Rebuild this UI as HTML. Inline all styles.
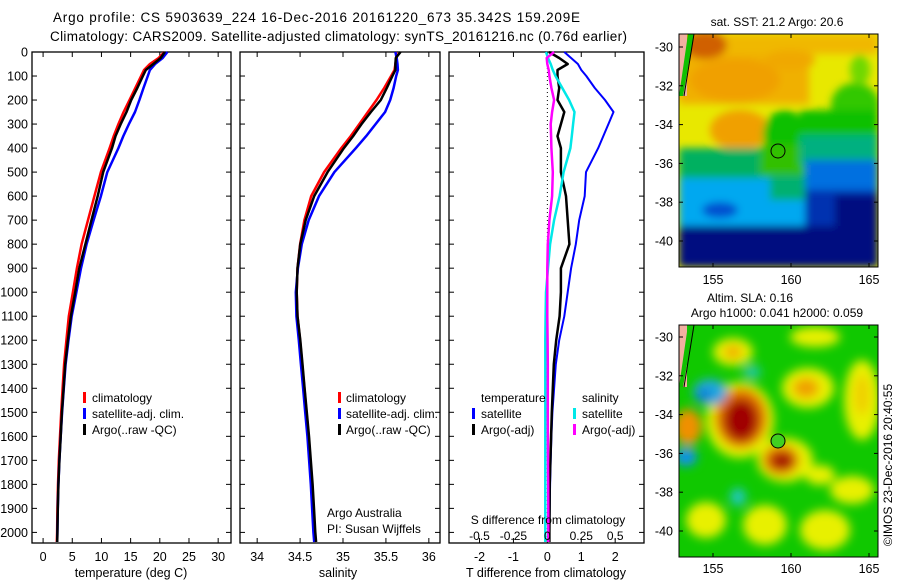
<!DOCTYPE html>
<html><head><meta charset="utf-8"><style>
html,body{margin:0;padding:0;background:#fff;}
svg{display:block;font-family:"Liberation Sans",sans-serif;}
</style></head><body>
<svg id="fig" width="900" height="580" viewBox="0 0 900 580">
<defs>
<filter id="b1" x="-50%" y="-50%" width="200%" height="200%"><feGaussianBlur stdDeviation="4"/></filter>
<filter id="b2" x="-50%" y="-50%" width="200%" height="200%"><feGaussianBlur stdDeviation="5"/></filter>
<clipPath id="cm1"><rect x="679" y="34" width="199" height="233"/></clipPath>
<clipPath id="cm2"><rect x="679" y="325" width="199" height="232"/></clipPath>
</defs>
<text x="53" y="22" font-size="13.5" textLength="527">Argo profile: CS 5903639_224 16-Dec-2016 20161220_673 35.342S 159.209E</text>
<text x="50" y="41" font-size="13.5" textLength="577">Climatology: CARS2009. Satellite-adjusted climatology: synTS_20161216.nc (0.76d earlier)</text>

<g id="p1"></g>
<g id="p2"></g>
<g id="p3"></g>

<!-- Map 1: SST -->
<g>
<g clip-path="url(#cm1)">
<rect x="679" y="34" width="199" height="233" fill="#e8e800"/>
<g filter="url(#b1)">
<rect x="679" y="34" width="130" height="70" fill="#f0b000"/>
<rect x="679" y="34" width="199" height="20" fill="#f0b800"/>
<ellipse cx="705" cy="45" rx="22" ry="14" fill="#d06000"/>
<ellipse cx="735" cy="80" rx="45" ry="22" fill="#f0a000"/>
<ellipse cx="740" cy="130" rx="30" ry="20" fill="#f0a000"/>
<ellipse cx="790" cy="60" rx="25" ry="10" fill="#f0a800"/>
<ellipse cx="855" cy="105" rx="24" ry="22" fill="#30c800"/>
<ellipse cx="860" cy="70" rx="10" ry="15" fill="#70d800"/>
<ellipse cx="785" cy="135" rx="22" ry="25" fill="#10c000"/>
<rect x="800" y="110" width="78" height="35" fill="#10c000"/>
<rect x="679" y="148" width="199" height="30" fill="#00b060"/>
<rect x="760" y="145" width="45" height="30" fill="#30c000"/>
<rect x="800" y="135" width="78" height="30" fill="#00b080"/>
<rect x="679" y="178" width="130" height="48" fill="#00a8f0"/>
<rect x="770" y="175" width="35" height="25" fill="#00b070"/>
<rect x="805" y="160" width="73" height="35" fill="#0070e0"/>
<rect x="805" y="190" width="73" height="77" fill="#0030b0"/>
<rect x="679" y="226" width="199" height="41" fill="#000c80"/>
<rect x="835" y="195" width="43" height="72" fill="#000c80"/>
<ellipse cx="720" cy="210" rx="18" ry="8" fill="#0050d0"/>
</g>
<rect x="679" y="34" width="8" height="62" fill="#f0b0a0"/>
<polygon points="688,34 694,34 683,96 679,96" fill="#10c000"/>
<polyline points="694,34 684,96" fill="none" stroke="#000" stroke-width="1"/>
</g>
<rect x="679" y="34" width="199" height="233" fill="none" stroke="#000" stroke-width="1"/>
<circle cx="778" cy="151" r="7" fill="none" stroke="#000" stroke-width="1"/>
<text x="777" y="26" font-size="12" text-anchor="middle">sat. SST: 21.2 Argo: 20.6</text>
</g>

<!-- Map 2: SLA -->
<g>
<g clip-path="url(#cm2)">
<rect x="679" y="325" width="199" height="232" fill="#10c800"/>
<g filter="url(#b2)">
<ellipse cx="740" cy="420" rx="34" ry="38" fill="#e8f000"/>
<ellipse cx="785" cy="460" rx="28" ry="22" fill="#e8f000"/>
<ellipse cx="808" cy="388" rx="26" ry="20" fill="#e8f000"/>
<ellipse cx="733" cy="352" rx="20" ry="14" fill="#e8f000"/>
<ellipse cx="862" cy="400" rx="18" ry="40" fill="#e8f000"/>
<ellipse cx="815" cy="337" rx="25" ry="10" fill="#e8f000"/>
<ellipse cx="706" cy="520" rx="20" ry="18" fill="#e8f000"/>
<ellipse cx="765" cy="525" rx="22" ry="20" fill="#e8f000"/>
<ellipse cx="825" cy="530" rx="25" ry="20" fill="#e8f000"/>
<ellipse cx="852" cy="490" rx="22" ry="14" fill="#e8f000"/>
<ellipse cx="820" cy="475" rx="15" ry="10" fill="#e8f000"/>
<ellipse cx="688" cy="427" rx="14" ry="18" fill="#f09000"/>
<ellipse cx="806" cy="388" rx="13" ry="10" fill="#f0a000"/>
<ellipse cx="733" cy="352" rx="9" ry="7" fill="#f0b000"/>
<ellipse cx="862" cy="395" rx="8" ry="20" fill="#f0d000"/>
<ellipse cx="741" cy="418" rx="26" ry="30" fill="#e07000"/>
<ellipse cx="781" cy="460" rx="18" ry="15" fill="#e07000"/>
<ellipse cx="741" cy="420" rx="17" ry="21" fill="#a00000"/>
<ellipse cx="782" cy="461" rx="11" ry="8" fill="#a00000"/>
<ellipse cx="710" cy="392" rx="17" ry="13" fill="#20a8e0"/>
<ellipse cx="704" cy="395" rx="8" ry="7" fill="#1080d0"/>
<ellipse cx="686" cy="457" rx="11" ry="9" fill="#1090f0"/>
<ellipse cx="738" cy="497" rx="8" ry="9" fill="#20c8c0"/>
<ellipse cx="752" cy="372" rx="9" ry="7" fill="#20c8a0"/>
</g>
<rect x="679" y="325" width="8" height="62" fill="#f0b0a0"/>
<polygon points="688,325 694,325 683,387 679,387" fill="#10c000"/>
<polyline points="694,325 684,387" fill="none" stroke="#000" stroke-width="1"/>
</g>
<rect x="679" y="325" width="199" height="232" fill="none" stroke="#000" stroke-width="1"/>
<circle cx="778" cy="441" r="7" fill="#40d020" stroke="#000" stroke-width="1"/>
<text x="750" y="302" font-size="12" text-anchor="middle">Altim. SLA: 0.16</text>
<text x="777" y="317" font-size="12" text-anchor="middle">Argo h1000: 0.041 h2000: 0.059</text>
</g>
<text transform="translate(892,465) rotate(-90)" font-size="12" text-anchor="middle">©IMOS 23-Dec-2016 20:40:55</text>

<script>
const depths = [0,25,50,75,100,150,200,250,300,350,400,500,600,700,800,900,1000,1100,1200,1300,1400,1500,1600,1700,1800,1900,2000,2040];
const tempClim = [20.8,19.8,18.3,17.3,16.8,15.8,14.8,13.8,12.9,12.1,11.4,9.9,8.8,7.7,6.6,5.8,5.1,4.4,4.0,3.6,3.35,3.1,2.9,2.7,2.55,2.45,2.4,2.35];
const tempSat = [21.3,20.5,19.2,18.3,17.95,17.2,16.5,15.75,14.7,13.75,12.9,11.0,9.9,8.65,7.45,6.5,5.7,4.9,4.35,3.85,3.55,3.25,3.02,2.8,2.63,2.52,2.46,2.41];
const tempArgo = [20.85,20.15,18.9,17.6,17.1,16.15,15.1,14.3,13.3,12.4,11.8,10.3,9.35,8.3,7.25,6.2,5.5,4.76,4.26,3.79,3.51,3.23,3.01,2.79,2.62,2.515,2.46,2.41];
const salClim = [35.62,35.62,35.61,35.6,35.56,35.48,35.39,35.29,35.19,35.09,34.98,34.78,34.63,34.55,34.5,34.47,34.46,34.47,34.5,34.525,34.55,34.575,34.6,34.62,34.64,34.655,34.67,34.68];
const salSat = [35.61,35.625,35.635,35.64,35.62,35.59,35.55,35.49,35.38,35.27,35.15,34.9,34.72,34.6,34.52,34.475,34.45,34.457,34.485,34.51,34.535,34.56,34.585,34.605,34.625,34.64,34.655,34.665];
const salArgo = [35.67,35.615,35.61,35.61,35.575,35.51,35.44,35.325,35.215,35.118,35.01,34.82,34.665,34.565,34.503,34.47,34.46,34.47,34.502,34.528,34.553,34.578,34.604,34.625,34.646,34.662,34.677,34.687];
const tDiffSat = [0.5,0.7,0.9,1.0,1.15,1.4,1.7,1.95,1.8,1.65,1.5,1.14,1.1,0.94,0.84,0.7,0.6,0.5,0.35,0.25,0.2,0.15,0.12,0.1,0.08,0.07,0.06,0.06];
const tDiffArgo = [0.05,0.35,0.6,0.3,0.3,0.35,0.3,0.5,0.4,0.3,0.4,0.4,0.55,0.6,0.65,0.4,0.4,0.36,0.26,0.19,0.16,0.13,0.11,0.09,0.07,0.065,0.06,0.06];
const sDiffSat = [-0.01,0.005,0.025,0.04,0.06,0.11,0.16,0.2,0.19,0.18,0.17,0.12,0.09,0.05,0.02,0.005,-0.01,-0.013,-0.015,-0.015,-0.015,-0.015,-0.015,-0.015,-0.015,-0.015,-0.015,-0.015];
const sDiffArgo = [0.05,-0.005,0,0.01,0.015,0.03,0.05,0.035,0.025,0.028,0.03,0.04,0.035,0.015,0.003,0,0,0,0.002,0.003,0.003,0.003,0.004,0.005,0.006,0.007,0.007,0.007];
const depthTicks = [0,100,200,300,400,500,600,700,800,900,1000,1100,1200,1300,1400,1500,1600,1700,1800,1900,2000];
const tempTicks = [0,5,10,15,20,25,30];
const salTicks = [34,34.5,35,35.5,36];
const tDiffTicks = [-2,-1,0,1,2];
const sDiffTicks = [-0.5,-0.25,0,0.25,0.5];
const latTicks = [-30,-32,-34,-36,-38,-40];
const lonTicks = [155,160,165];

const NS='http://www.w3.org/2000/svg';
const svg=document.getElementById('fig');
function mk(tag,attrs,parent){const e=document.createElementNS(NS,tag);for(const k in attrs)e.setAttribute(k,attrs[k]);(parent||svg).appendChild(e);return e;}
const TOP=52,BOT=543;
const yD=d=>TOP+(d)*0.2402;

function panel(g,x0,x1,xmin,xmax){
  const sx=v=>x0+(v-xmin)/(xmax-xmin)*(x1-x0);
  mk('rect',{x:x0,y:TOP,width:x1-x0,height:BOT-TOP,fill:'none',stroke:'#000','stroke-width':1.3},g);
  depthTicks.forEach(d=>{
    mk('line',{x1:x0,x2:x0+5,y1:yD(d),y2:yD(d),stroke:'#000'},g);
    mk('line',{x1:x1-5,x2:x1,y1:yD(d),y2:yD(d),stroke:'#000'},g);
  });
  return sx;
}
function line(g,sx,vals,color,name,w){
  const pts=vals.map((v,i)=>sx(v).toFixed(1)+','+yD(depths[i]).toFixed(1)).join(' ');
  const p=mk('polyline',{points:pts,fill:'none',stroke:color,'stroke-width':w||2.5,'stroke-linejoin':'round'},g);
  
  
}
function xticks(g,sx,ticks,labels,ly,labelIt){
  ticks.forEach((t,i)=>{
    const x=sx(t);
    mk('line',{x1:x,x2:x,y1:TOP,y2:TOP+5,stroke:'#000'},g);
    mk('line',{x1:x,x2:x,y1:BOT-5,y2:BOT,stroke:'#000'},g);
    if(labelIt){const tx=mk('text',{x:x,y:ly,'font-size':12.5,'text-anchor':'middle'},g);tx.textContent=labels[i];
      
      }
  });
}
function txt(g,x,y,s,name,anchor,fs){const t=mk('text',{x:x,y:y,'font-size':fs||12.5,'text-anchor':anchor||'start'},g);t.textContent=s;
  
  return t;}
function legBar(g,x,y,color,name){const r=mk('rect',{x:x,y:y-10,width:3,height:11,fill:color},g);
  
  }

// depth labels
depthTicks.forEach(d=>{const t=mk('text',{x:28,y:yD(d)+4.5,'font-size':12.5,'text-anchor':'end'});t.textContent=d;
  
  });

// panel 1
const g1=document.getElementById('p1');
const sT=panel(g1,32,231,-1.9,32.2);
xticks(g1,sT,tempTicks,tempTicks,561,true);
line(g1,sT,tempClim,'#ff0000','temp-climatology-line');
line(g1,sT,tempSat,'#0000ff','temp-satellite-line');
line(g1,sT,tempArgo,'#000000','temp-argo-line');
txt(g1,131,577,'temperature (deg C)','x-axis-title','middle');
legBar(g1,83,402,'#ff0000','legend-climatology');txt(g1,92,402,'climatology','legend-label','start',12);
legBar(g1,83,418,'#0000ff','legend-satellite');txt(g1,92,418,'satellite-adj. clim.','legend-label','start',12);
legBar(g1,83,434,'#000000','legend-argo');txt(g1,92,434,'Argo(..raw -QC)','legend-label','start',12);

// panel 2
const g2=document.getElementById('p2');
const sS=panel(g2,240,440,33.8,36.13);
xticks(g2,sS,salTicks,['34','34.5','35','35.5','36'],561,true);
line(g2,sS,salClim,'#ff0000','sal-climatology-line');
line(g2,sS,salSat,'#0000ff','sal-satellite-line');
line(g2,sS,salArgo,'#000000','sal-argo-line');
txt(g2,338,577,'salinity','x-axis-title','middle');
legBar(g2,338,402,'#ff0000','legend-climatology');txt(g2,346,402,'climatology','legend-label','start',12);
legBar(g2,338,418,'#0000ff','legend-satellite');txt(g2,346,418,'satellite-adj. clim.','legend-label','start',12).setAttribute('textLength','92');
legBar(g2,338,434,'#000000','legend-argo');txt(g2,346,434,'Argo(..raw -QC)','legend-label','start',12);
txt(g2,327,517,'Argo Australia','credit-label','start',12);
txt(g2,327,533,'PI: Susan Wijffels','credit-label','start',12);

// panel 3
const g3=document.getElementById('p3');
const sD=panel(g3,449,644,-2.9,2.85);
const sDs=v=>sD(v*4);
xticks(g3,sD,tDiffTicks,tDiffTicks,561,true);
mk('line',{x1:sD(0),x2:sD(0),y1:TOP,y2:BOT,stroke:'#000','stroke-dasharray':'1,3'},g3);
line(g3,sD,tDiffSat,'#0000ff','tdiff-satellite-line',2);
line(g3,sD,tDiffArgo,'#000000','tdiff-argo-line');
line(g3,sDs,sDiffSat,'#00e8e8','sdiff-satellite-line');
line(g3,sDs,sDiffArgo,'#ff00ff','sdiff-argo-line');
sDiffTicks.forEach((t,i)=>{txt(g3,sDs(t),540,['-0.5','-0.25','0','0.25','0.5'][i],'s-tick-label','middle',12);});
txt(g3,548,524,'S difference from climatology','s-axis-title','middle',12);
txt(g3,546,577,'T difference from climatology','x-axis-title','middle');
txt(g3,481,402,'temperature','legend-heading','start',12);
txt(g3,582,402,'salinity','legend-heading','start',12);
legBar(g3,472,418,'#0000ff','legend-t-satellite');txt(g3,481,418,'satellite','legend-label','start',12);
legBar(g3,472,434,'#000000','legend-t-argo');txt(g3,481,434,'Argo(-adj)','legend-label','start',12);
legBar(g3,573,418,'#00e8e8','legend-s-satellite');txt(g3,582,418,'satellite','legend-label','start',12);
legBar(g3,573,434,'#ff00ff','legend-s-argo');txt(g3,582,434,'Argo(-adj)','legend-label','start',12);

// map axes
function mapAxes(top,bot,latY0,lonLabelY){
  const ly=lat=>latY0+(-30-lat)*19.4;
  const lx=lon=>713+(lon-155)*15.6;
  latTicks.forEach(l=>{const y=ly(l);
    mk('line',{x1:679,x2:683,y1:y,y2:y,stroke:'#000'});
    mk('line',{x1:874,x2:878,y1:y,y2:y,stroke:'#000'});
    const t=mk('text',{x:673,y:y+4.5,'font-size':12.5,'text-anchor':'end'});t.textContent=l;
    
    });
  lonTicks.forEach(l=>{const x=lx(l);
    mk('line',{x1:x,x2:x,y1:top,y2:top+4,stroke:'#000'});
    mk('line',{x1:x,x2:x,y1:bot-4,y2:bot,stroke:'#000'});
    const t=mk('text',{x:x,y:lonLabelY,'font-size':12.5,'text-anchor':'middle'});t.textContent=l;
    
    });
}
mapAxes(34,267,47,284);
mapAxes(325,557,337,573);
</script>
</svg>
</body></html>
